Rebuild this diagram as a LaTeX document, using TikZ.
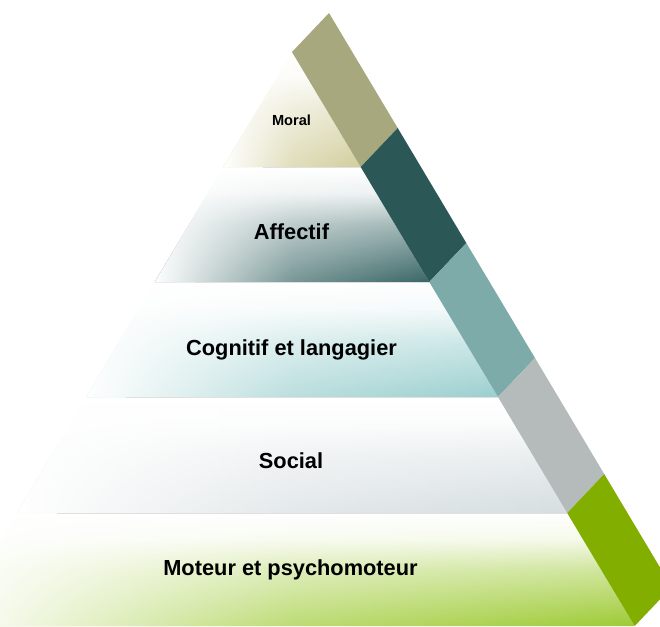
\documentclass[tikz,border=0pt]{standalone}
\usepackage{fontspec}
\setmainfont{Liberation Sans}
\usetikzlibrary{fadings,calc}
\tikzfading[name=fadefromleft, left color=transparent!0, right color=transparent!100, middle color=transparent!68]
\definecolor{moralC}{HTML}{D2CE9C}
\definecolor{affC}{HTML}{3A6666}
\definecolor{cogC}{HTML}{9BCFCF}
\definecolor{socC}{HTML}{D6DEE0}
\definecolor{motC}{HTML}{9ECB35}
\definecolor{bandA}{HTML}{A8A87E}
\definecolor{bandB}{HTML}{2B5856}
\definecolor{bandC}{HTML}{7DABAA}
\definecolor{bandD}{HTML}{B4BBBA}
\definecolor{bandE}{HTML}{82AE00}
\colorlet{lc}{white}
\pgfdeclareverticalshading[lc]{layershade}{100bp}{%
  color(0bp)=(lc); color(25bp)=(lc); color(50bp)=(lc!50!white);
  color(64bp)=(lc!10!white); color(75bp)=(white); color(100bp)=(white)}
\begin{document}
\begin{tikzpicture}[x=1pt,y=-1pt,
  lbl/.style={font=\bfseries\fontsize{21.8}{24}\selectfont, anchor=base, inner sep=0pt},
  lblsmall/.style={font=\bfseries\fontsize{14.6}{16}\selectfont, anchor=base, inner sep=0pt},
  sepline/.style={line width=0.6pt, black!12}]
\useasboundingbox (0,0) rectangle (660,626);
\begin{scope}
\clip (0,0) rectangle (660,626);
% layers of the pyramid
\foreach \ya/\yb/\c in {52/167/moralC, 168/282/affC, 283/397/cogC, 398/513/socC, 514/626/motC} {
  \colorlet{lc}{\c}
  \shade[shading=layershade]
    ({292-0.597*(\ya-52)},\ya) -- ({292+0.597*(\ya-52)},\ya) --
    ({292+0.597*(\yb-52)},\yb) -- ({292-0.597*(\yb-52)},\yb) -- cycle;
  \fill[white, path fading=fadefromleft]
    ({292-0.597*(\ya-52)},\ya) -- ({292+0.597*(\ya-52)},\ya) --
    ({292+0.597*(\yb-52)},\yb) -- ({292-0.597*(\yb-52)},\yb) -- cycle;
}
\foreach \yb in {167,282,397,513} {
  \draw[sepline] ({292-0.597*(\yb-52)+40},\yb+0.5) -- ({292+0.597*(\yb-52)},\yb+0.5);
}
% band along the right edge
\coordinate (i0) at (292,52);    \coordinate (o0) at (329,13);
\coordinate (i1) at (360.7,167); \coordinate (o1) at (397.7,128);
\coordinate (i2) at (429.3,282); \coordinate (o2) at (466.3,243);
\coordinate (i3) at (498.0,397); \coordinate (o3) at (535.0,358);
\coordinate (i4) at (567.2,513); \coordinate (o4) at (604.2,474);
\coordinate (i5) at (634.7,626); \coordinate (o5) at (671.7,587);
\fill[bandA] (i0) -- (o0) -- (o1) -- (i1) -- cycle;
\fill[bandB] (i1) -- (o1) -- (o2) -- (i2) -- cycle;
\fill[bandC] (i2) -- (o2) -- (o3) -- (i3) -- cycle;
\fill[bandD] (i3) -- (o3) -- (o4) -- (i4) -- cycle;
\fill[bandE] (i4) -- (o4) -- (o5) -- (i5) -- cycle;
\end{scope}
% labels
\node[lblsmall] (moral) at (291.5,125) {Moral};
\node[lbl] (affectif) at (291.5,239) {Affectif};
\node[lbl] (cognitif) at (291.5,355) {Cognitif et langagier};
\node[lbl] (social) at (291,468) {Social};
\node[lbl] (moteur) at (290.5,575) {Moteur et psychomoteur};
\end{tikzpicture}
\end{document}
